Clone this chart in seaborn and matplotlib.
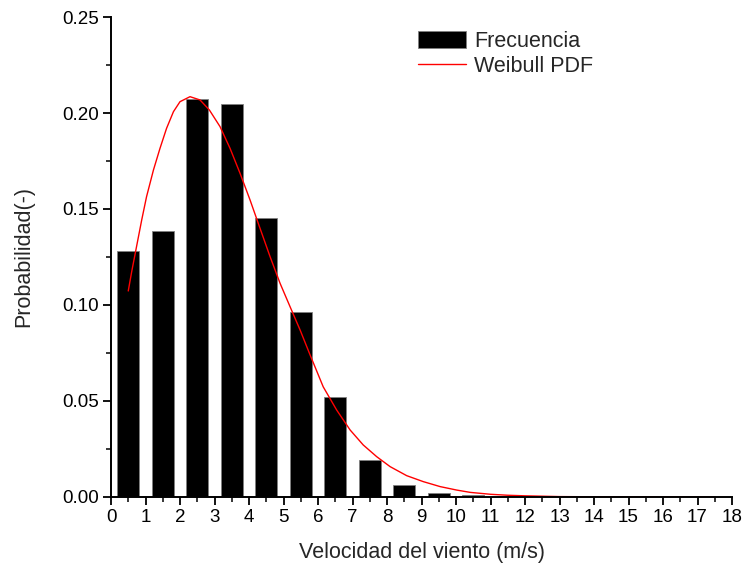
import matplotlib
matplotlib.use("Agg")
import matplotlib.pyplot as plt
from matplotlib.ticker import MultipleLocator, FormatStrFormatter
import seaborn as sns
import pandas as pd

# Histogram bars (bin centres, m/s) and their relative frequency
bin_centers = [0.5, 1.5, 2.5, 3.5, 4.5, 5.5, 6.5, 7.5, 8.5, 9.5,
               10.5, 11.5, 12.5, 13.5, 14.5, 15.5, 16.5, 17.5]
frequency = [0.1283, 0.1387, 0.2071, 0.2047, 0.1453, 0.0962, 0.0519, 0.0191, 0.0061, 0.0019,
             0.0010, 0.0007, 0.0004, 0.0003, 0.0004, 0.0004, 0.0003, 0.0002]

# Weibull PDF curve
curve_x = [0.50, 0.60, 0.74, 0.89, 1.03, 1.23, 1.42, 1.61, 1.81, 2.00, 2.29, 2.58,
           2.85, 3.16, 3.45, 3.74, 4.03, 4.32, 4.61, 4.90, 5.19, 5.48, 5.77, 6.15,
           6.54, 6.93, 7.31, 7.70, 8.09, 8.57, 9.05, 9.54, 10.02, 10.41, 11.0, 11.5,
           12.0, 12.5, 13.0, 14.0, 15.0, 16.0, 17.0, 17.5]
curve_y = [0.1073, 0.1174, 0.1304, 0.1443, 0.1564, 0.1703, 0.1816, 0.1920, 0.2007, 0.2059,
           0.2085, 0.2068, 0.2016, 0.1929, 0.1816, 0.1686, 0.1547, 0.1399, 0.1252, 0.1113,
           0.0991, 0.0870, 0.0740, 0.0574, 0.0453, 0.0349, 0.0271, 0.0210, 0.0158, 0.0111,
           0.0080, 0.0054, 0.0036, 0.0024, 0.0014, 0.0009, 0.0006, 0.0004, 0.0002, 0.0001,
           0.00004, 0.00001, 0.0, 0.0]

bars_df = pd.DataFrame({"v": bin_centers, "p": frequency})
curve_df = pd.DataFrame({"v": curve_x, "p": curve_y})

sns.set_style("ticks")
plt.rcParams["font.family"] = ["Liberation Sans", "DejaVu Sans"]

fig = plt.figure(figsize=(7.45, 5.67), dpi=100)
ax = fig.add_axes([0.149, 0.1235, 0.8336, 0.8465])

sns.barplot(data=bars_df, x="v", y="p", native_scale=True, width=0.64,
            color="black", edgecolor="#808080", linewidth=0.6, saturation=1,
            label="Frecuencia", ax=ax)
sns.lineplot(data=curve_df, x="v", y="p", color="red", linewidth=1.0,
             label="Weibull PDF", ax=ax)

ax.set_xlim(0, 18)
ax.set_ylim(0, 0.25)
ax.xaxis.set_major_locator(MultipleLocator(1))
ax.xaxis.set_minor_locator(MultipleLocator(0.5))
ax.yaxis.set_major_locator(MultipleLocator(0.05))
ax.yaxis.set_minor_locator(MultipleLocator(0.025))
ax.yaxis.set_major_formatter(FormatStrFormatter("%.2f"))

for s in ["top", "right"]:
    ax.spines[s].set_visible(False)
for s in ["left", "bottom"]:
    ax.spines[s].set_linewidth(1.4)
    ax.spines[s].set_color("black")

ax.tick_params(which="major", direction="out", length=6, width=1.3, colors="black",
               labelsize=13.5, pad=3)
ax.tick_params(which="minor", direction="out", length=3.6, width=1.1, colors="black")

ax.set_xlabel("Velocidad del viento (m/s)", fontsize=15.5, labelpad=11)
ax.set_ylabel("Probabilidad(-)", fontsize=15.5, labelpad=20)

handles, labels = ax.get_legend_handles_labels()
order = [labels.index("Frecuencia"), labels.index("Weibull PDF")]
ax.legend([handles[i] for i in order], [labels[i] for i in order],
          loc="upper left", bbox_to_anchor=(418 / 745, 1 - 31 / 567),
          bbox_transform=fig.transFigure, frameon=False,
          fontsize=15.5, handlelength=2.25, handleheight=0.85, handletextpad=0.35,
          labelspacing=0.2, borderaxespad=0, borderpad=0)

fig.savefig("out.png", dpi=100)
